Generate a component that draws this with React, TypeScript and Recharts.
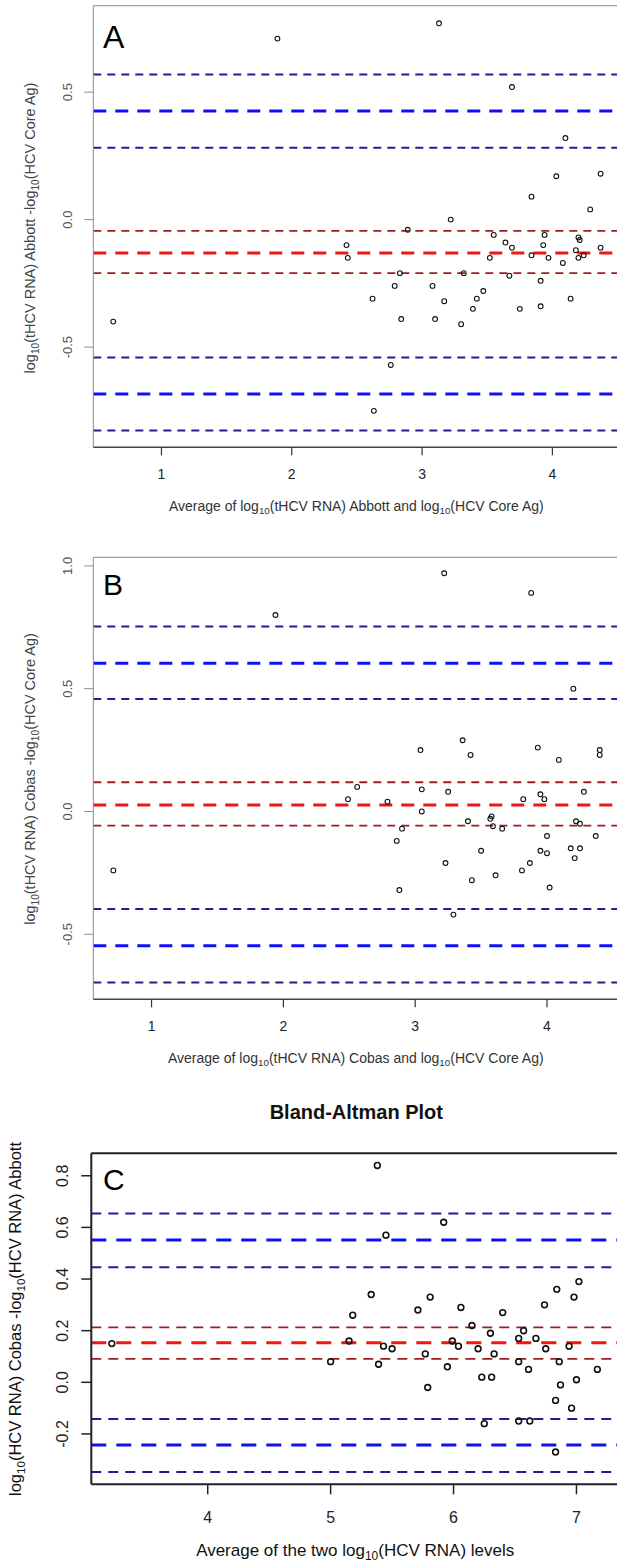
import { ScatterChart, Scatter, XAxis, YAxis, ReferenceLine } from "recharts";

// Panel A: Abbott tHCV RNA vs HCV core Ag
const abbottAvg = [0.63, 1.89, 3.13, 3.69, 4.1, 4.03, 4.37, 3.84, 4.29, 3.22, 2.89, 2.42, 2.43, 3.55, 3.94, 3.64, 3.69, 3.93, 4.2, 4.21, 4.18, 4.37, 3.52, 3.84, 3.97, 4.08, 4.2, 4.24, 2.83, 3.32, 3.67, 3.91, 2.79, 3.08, 3.47, 2.62, 3.17, 3.42, 4.14, 3.39, 3.75, 3.91, 2.84, 3.1, 3.3, 2.76, 2.63];
const abbottDiff = [-0.4, 0.71, 0.77, 0.52, 0.32, 0.17, 0.18, 0.09, 0.04, 0.0, -0.04, -0.1, -0.15, -0.06, -0.06, -0.09, -0.11, -0.1, -0.07, -0.08, -0.12, -0.11, -0.15, -0.14, -0.15, -0.17, -0.15, -0.14, -0.21, -0.21, -0.22, -0.24, -0.26, -0.26, -0.28, -0.31, -0.32, -0.31, -0.31, -0.35, -0.35, -0.34, -0.39, -0.39, -0.41, -0.57, -0.75];
const abbottLines = [0.569, 0.426, 0.282, -0.044, -0.131, -0.21, -0.541, -0.684, -0.827];

// Panel B: Cobas tHCV RNA vs HCV core Ag
const cobasAvg = [0.71, 1.94, 3.22, 3.88, 4.2, 3.36, 3.04, 3.42, 3.93, 4.09, 4.4, 4.4, 2.56, 2.49, 3.05, 3.25, 2.79, 3.82, 3.95, 3.98, 4.28, 3.05, 3.4, 3.57, 3.58, 3.59, 3.66, 2.9, 2.86, 4.22, 4.25, 4.0, 4.37, 3.5, 3.95, 4.0, 4.18, 4.25, 4.21, 3.23, 3.87, 3.81, 3.43, 3.61, 4.02, 2.88, 3.29];
const cobasDiff = [-0.24, 0.8, 0.97, 0.89, 0.5, 0.29, 0.25, 0.23, 0.26, 0.21, 0.25, 0.23, 0.1, 0.05, 0.09, 0.08, 0.04, 0.05, 0.07, 0.05, 0.08, 0.0, -0.04, -0.03, -0.02, -0.06, -0.07, -0.07, -0.12, -0.04, -0.05, -0.1, -0.1, -0.16, -0.16, -0.17, -0.15, -0.15, -0.19, -0.21, -0.21, -0.24, -0.28, -0.26, -0.31, -0.32, -0.42];
const cobasLines = [0.753, 0.604, 0.458, 0.119, 0.026, -0.058, -0.397, -0.547, -0.697];

// Panel C: Cobas vs Abbott HCV RNA
const rnaAvg = [3.22, 5.38, 5.92, 5.45, 5.33, 5.81, 5.18, 5.71, 6.06, 6.4, 6.74, 6.84, 7.02, 6.98, 6.15, 5.15, 5.43, 5.5, 5.0, 5.39, 5.77, 5.79, 5.95, 5.99, 6.04, 6.2, 6.3, 6.57, 6.53, 6.67, 6.33, 6.53, 6.75, 6.94, 6.61, 6.86, 7.17, 6.23, 6.31, 6.87, 7.0, 6.83, 6.96, 6.25, 6.53, 6.62, 6.83];
const rnaDiff = [0.15, 0.84, 0.62, 0.57, 0.34, 0.33, 0.26, 0.28, 0.29, 0.27, 0.3, 0.36, 0.39, 0.33, 0.22, 0.16, 0.14, 0.13, 0.08, 0.07, 0.11, -0.02, 0.06, 0.16, 0.14, 0.13, 0.19, 0.2, 0.17, 0.17, 0.11, 0.08, 0.13, 0.14, 0.05, 0.08, 0.05, 0.02, 0.02, -0.01, 0.01, -0.07, -0.1, -0.16, -0.15, -0.15, -0.27];
const rnaLines = [0.654, 0.551, 0.446, 0.213, 0.153, 0.091, -0.142, -0.243, -0.347];

const abbottXTicks = [1, 2, 3, 4];
const abbottYTicks = [-0.5, 0, 0.5];
const cobasXTicks = [1, 2, 3, 4];
const cobasYTicks = [-0.5, 0, 0.5, 1];
const rnaXTicks = [4, 5, 6, 7];
const rnaYTicks = [-0.2, 0, 0.2, 0.4, 0.6, 0.8];

// odd entries are subscripts
const abbottXLabel = ["Average of log", "10", "(tHCV RNA) Abbott and log", "10", "(HCV Core Ag)"];
const abbottYLabel = ["log", "10", "(tHCV RNA) Abbott -log", "10", "(HCV Core Ag)"];
const cobasXLabel = ["Average of log", "10", "(tHCV RNA) Cobas and log", "10", "(HCV Core Ag)"];
const cobasYLabel = ["log", "10", "(tHCV RNA) Cobas -log", "10", "(HCV Core Ag)"];
const rnaXLabel = ["Average of the two log", "10", "(HCV RNA) levels"];
const rnaYLabel = ["log", "10", "(HCV RNA) Cobas -log", "10", "(HCV RNA) Abbott"];

const FONT = "'Liberation Sans', Arial, sans-serif";

function Rich({ parts, size }: { parts: string[]; size: number }) {
  const shift = size * 0.25;
  return (
    <>
      {parts.map((p, i) =>
        i % 2 ? (
          <tspan key={i} fontSize={size * 0.7} dy={shift}>
            {p}
          </tspan>
        ) : (
          <tspan key={i} dy={i ? -shift : 0}>
            {p}
          </tspan>
        )
      )}
    </>
  );
}

type Panel = {
  top: number;
  height: number;
  width: number;
  plotTop: number;
  plotBottom: number;
  plotLeft: number;
  xDomain: [number, number];
  yDomain: [number, number];
  xTicks: number[];
  yTicks: number[];
  xs: number[];
  ys: number[];
  lines: number[];
  letter: string;
  letterBase: number;
  letterSize: number;
  xLabel: string[];
  yLabel: string[];
  xTickBase: number;
  xLabelBase: number;
  xLabelX: number;
  yTickXb: number;
  yLabelXb: number;
  yLabelY: number;
  heavy?: boolean;
  title?: string;
};

const panels: Panel[] = [
  {
    top: 0, height: 530, width: 635, plotTop: 5.7, plotBottom: 447.3, plotLeft: 93.3,
    xDomain: [0.477, 4.634], yDomain: [-0.893, 0.839],
    xTicks: abbottXTicks, yTicks: abbottYTicks, xs: abbottAvg, ys: abbottDiff, lines: abbottLines,
    letter: "A", letterBase: 48, letterSize: 32, xLabel: abbottXLabel, yLabel: abbottYLabel,
    xTickBase: 479.3, xLabelBase: 510.5, xLabelX: 356.3, yTickXb: 72.5, yLabelXb: 35.2, yLabelY: 228,
  },
  {
    top: 530, height: 540, width: 634, plotTop: 27.3, plotBottom: 469.3, plotLeft: 93.3,
    xDomain: [0.558, 4.66], yDomain: [-0.765, 1.035],
    xTicks: cobasXTicks, yTicks: cobasYTicks, xs: cobasAvg, ys: cobasDiff, lines: cobasLines,
    letter: "B", letterBase: 64.7, letterSize: 30, xLabel: cobasXLabel, yLabel: cobasYLabel,
    xTickBase: 501, xLabelBase: 532.5, xLabelX: 355.8, yTickXb: 72.5, yLabelXb: 35.2, yLabelY: 249,
  },
  {
    top: 1070, height: 495, width: 633, plotTop: 83.3, plotBottom: 414.3, plotLeft: 91.3,
    xDomain: [3.053, 7.46], yDomain: [-0.395, 0.887],
    xTicks: rnaXTicks, yTicks: rnaYTicks, xs: rnaAvg, ys: rnaDiff, lines: rnaLines,
    letter: "C", letterBase: 119.5, letterSize: 30, xLabel: rnaXLabel, yLabel: rnaYLabel,
    xTickBase: 453, xLabelBase: 485.5, xLabelX: 355.2, yTickXb: 68.2, yLabelXb: 20.5, yLabelY: 249,
    heavy: true, title: "Bland-Altman Plot",
  },
];

// index 1/7 = limits of agreement, 4 = mean, the rest are their CIs
function lineStyle(i: number, heavy?: boolean) {
  if (i === 4) return { stroke: "#f41414", strokeWidth: 3, strokeDasharray: heavy ? "15 10" : "13 9" };
  if (i === 1 || i === 7) return { stroke: "#1010f4", strokeWidth: 3, strokeDasharray: heavy ? "15 10" : "13 9" };
  if (i === 3 || i === 5) return { stroke: "#a11c1c", strokeWidth: 1.8, strokeDasharray: heavy ? "10 7" : "8 6" };
  return { stroke: "#1e1e96", strokeWidth: 2, strokeDasharray: heavy ? "10 7" : "8 6" };
}

function PanelChart({ p }: { p: Panel }) {
  const data = p.xs.map((x, i) => ({ x, y: p.ys[i] }));
  const tickFs = p.heavy ? 16 : 14;
  const yTickFs = p.heavy ? 16 : 13;
  const labelFs = p.heavy ? 17 : 14;
  const yLabelFs = p.heavy ? 16.5 : 14.5;
  const boxColor = p.heavy ? "#222" : "#8a8a8a";
  const boxWidth = p.heavy ? 2 : 1;
  const r = p.heavy ? 2.9 : 2.4;

  const texts = () => (
    <g fontFamily={FONT}>
      {p.title && (
        <text x={356.3} y={49.3} textAnchor="middle" fontSize={20} fontWeight="bold" fill="#111">
          {p.title}
        </text>
      )}
      <text x={103} y={p.letterBase} fontSize={p.letterSize} fill="#000">
        {p.letter}
      </text>
      <text x={p.xLabelX} y={p.xLabelBase} textAnchor="middle" fontSize={labelFs} fill={p.heavy ? "#111" : "#333"}>
        <Rich parts={p.xLabel} size={labelFs} />
      </text>
      <text
        x={p.yLabelXb}
        y={p.yLabelY}
        textAnchor="middle"
        fontSize={yLabelFs}
        fill={p.heavy ? "#111" : "#444"}
        transform={`rotate(-90 ${p.yLabelXb} ${p.yLabelY})`}
      >
        <Rich parts={p.yLabel} size={yLabelFs} />
      </text>
    </g>
  );

  return (
    <div style={{ position: "absolute", left: 0, top: p.top }}>
      <ScatterChart
        width={p.width}
        height={p.height}
        margin={{ top: p.plotTop, right: 0, bottom: 0, left: 0 }}
      >
        <XAxis
          type="number"
          dataKey="x"
          domain={p.xDomain}
          allowDataOverflow
          ticks={p.xTicks}
          interval={0}
          height={p.height - p.plotBottom}
          tickSize={p.heavy ? 10 : 8}
          axisLine={{ stroke: p.heavy ? "#222" : "#444", strokeWidth: p.heavy ? 2 : 1.5 }}
          tickLine={{ stroke: p.heavy ? "#222" : "#333", strokeWidth: p.heavy ? 1.5 : 1.2 }}
          tick={(t: any) => (
            <text x={t.x} y={p.xTickBase} textAnchor="middle" fontSize={tickFs} fontFamily={FONT} fill="#222">
              {t.payload.value}
            </text>
          )}
          label={texts}
        />
        <YAxis
          type="number"
          dataKey="y"
          domain={p.yDomain}
          allowDataOverflow
          ticks={p.yTicks}
          interval={0}
          width={p.plotLeft}
          tickSize={p.heavy ? 10 : 9}
          axisLine={{ stroke: boxColor, strokeWidth: boxWidth }}
          tickLine={{ stroke: p.heavy ? "#222" : "#8a8a8a", strokeWidth: p.heavy ? 1.5 : 1 }}
          tick={(t: any) => (
            <text
              x={p.yTickXb}
              y={t.y}
              textAnchor="middle"
              fontSize={yTickFs}
              fontFamily={FONT}
              fill={p.heavy ? "#222" : "#555"}
              transform={`rotate(-90 ${p.yTickXb} ${t.y})`}
            >
              {Number(t.payload.value).toFixed(1)}
            </text>
          )}
        />
        <ReferenceLine y={p.yDomain[1]} stroke={boxColor} strokeWidth={boxWidth} />
        {p.lines.map((v, i) => (
          <ReferenceLine key={i} y={v} {...lineStyle(i, p.heavy)} />
        ))}
        <Scatter
          data={data}
          isAnimationActive={false}
          shape={(s: any) => (
            <circle cx={s.cx} cy={s.cy} r={r} fill="none" stroke="#111" strokeWidth={p.heavy ? 1.6 : 1.1} />
          )}
        />
      </ScatterChart>
    </div>
  );
}

export default function App() {
  return (
    <div
      style={{
        position: "absolute",
        left: 0,
        top: 0,
        width: 617,
        height: 1565,
        overflow: "hidden",
        background: "#fff",
      }}
    >
      {panels.map((p) => (
        <PanelChart key={p.letter} p={p} />
      ))}
    </div>
  );
}
